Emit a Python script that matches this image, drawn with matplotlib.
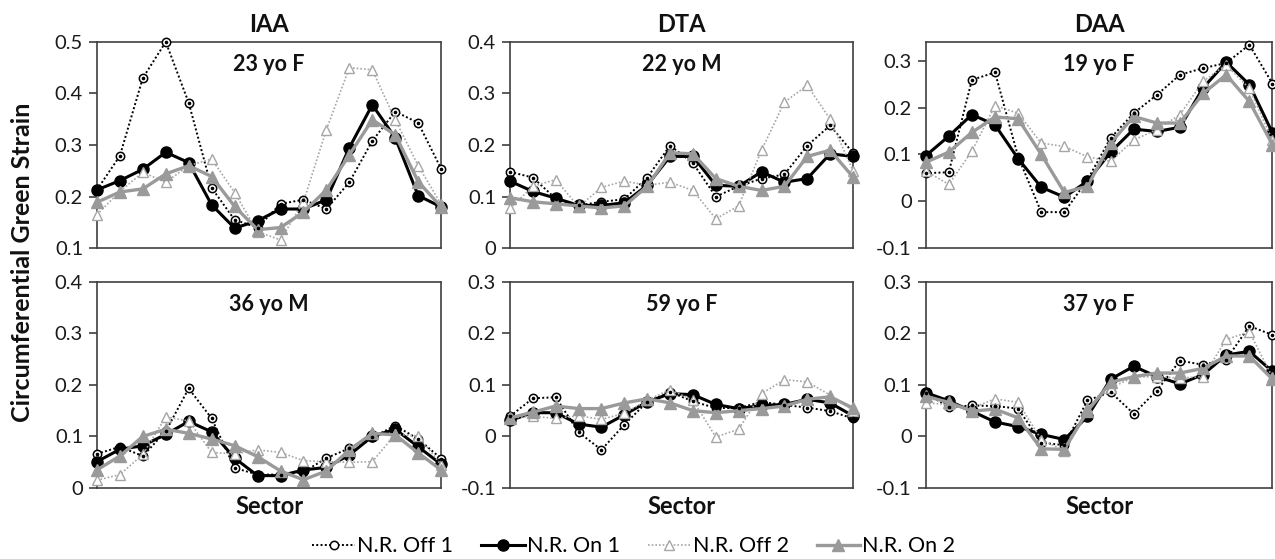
import matplotlib.pyplot as plt
import matplotlib.ticker as mticker
from matplotlib.lines import Line2D
import numpy as np

plt.rcParams['font.family'] = ['Lato', 'DejaVu Sans']

# 1. DATA (16 sectors per panel)
sectors = np.arange(16)
series_names = ['N.R. Off 1', 'N.R. On 1', 'N.R. Off 2', 'N.R. On 2']

# IAA - 23 yo F
iaa_23f_off1 = [0.213, 0.279, 0.430, 0.500, 0.382, 0.217, 0.155, 0.140, 0.186, 0.194, 0.176, 0.228, 0.308, 0.365, 0.343, 0.254]
iaa_23f_on1  = [0.213, 0.231, 0.253, 0.286, 0.266, 0.184, 0.139, 0.153, 0.176, 0.176, 0.194, 0.295, 0.378, 0.314, 0.202, 0.180]
iaa_23f_off2 = [0.165, 0.210, 0.247, 0.228, 0.260, 0.273, 0.208, 0.132, 0.116, 0.190, 0.330, 0.450, 0.446, 0.349, 0.260, 0.185]
iaa_23f_on2  = [0.189, 0.209, 0.215, 0.244, 0.260, 0.239, 0.181, 0.136, 0.140, 0.170, 0.213, 0.281, 0.349, 0.320, 0.229, 0.180]

# DTA - 22 yo M
dta_22m_off1 = [0.148, 0.137, 0.096, 0.083, 0.090, 0.095, 0.137, 0.199, 0.165, 0.100, 0.120, 0.135, 0.143, 0.199, 0.238, 0.185]
dta_22m_on1  = [0.130, 0.110, 0.097, 0.083, 0.083, 0.088, 0.122, 0.178, 0.178, 0.122, 0.120, 0.148, 0.128, 0.135, 0.183, 0.178]
dta_22m_off2 = [0.077, 0.120, 0.133, 0.080, 0.118, 0.130, 0.122, 0.128, 0.112, 0.057, 0.082, 0.190, 0.283, 0.316, 0.250, 0.150]
dta_22m_on2  = [0.098, 0.090, 0.086, 0.082, 0.078, 0.082, 0.120, 0.185, 0.183, 0.135, 0.120, 0.112, 0.120, 0.178, 0.190, 0.138]

# DAA - 19 yo F
daa_19f_off1 = [0.060, 0.062, 0.259, 0.275, 0.095, -0.023, -0.023, 0.046, 0.135, 0.188, 0.227, 0.270, 0.284, 0.295, 0.334, 0.251]
daa_19f_on1  = [0.097, 0.139, 0.185, 0.163, 0.091, 0.030, 0.009, 0.043, 0.105, 0.154, 0.149, 0.158, 0.242, 0.297, 0.249, 0.146]
daa_19f_off2 = [0.065, 0.036, 0.107, 0.204, 0.188, 0.124, 0.117, 0.095, 0.085, 0.131, 0.153, 0.185, 0.256, 0.291, 0.241, 0.130]
daa_19f_on2  = [0.083, 0.105, 0.147, 0.180, 0.176, 0.100, 0.019, 0.032, 0.124, 0.181, 0.167, 0.167, 0.230, 0.270, 0.213, 0.121]

# IAA - 36 yo M
iaa_36m_off1 = [0.066, 0.080, 0.062, 0.110, 0.193, 0.135, 0.039, 0.026, 0.026, 0.031, 0.058, 0.077, 0.098, 0.121, 0.095, 0.057]
iaa_36m_on1  = [0.051, 0.075, 0.082, 0.104, 0.129, 0.109, 0.058, 0.024, 0.024, 0.035, 0.040, 0.064, 0.100, 0.114, 0.080, 0.046]
iaa_36m_off2 = [0.015, 0.026, 0.065, 0.138, 0.130, 0.069, 0.066, 0.074, 0.069, 0.053, 0.051, 0.050, 0.051, 0.104, 0.101, 0.045]
iaa_36m_on2  = [0.035, 0.062, 0.100, 0.114, 0.106, 0.095, 0.082, 0.061, 0.033, 0.016, 0.033, 0.074, 0.106, 0.103, 0.068, 0.035]

# DTA - 59 yo F
dta_59f_off1 = [0.039, 0.074, 0.076, 0.008, -0.026, 0.023, 0.067, 0.086, 0.068, 0.055, 0.055, 0.067, 0.061, 0.056, 0.049, 0.035]
dta_59f_on1  = [0.031, 0.046, 0.046, 0.024, 0.018, 0.042, 0.067, 0.083, 0.081, 0.062, 0.054, 0.060, 0.062, 0.072, 0.065, 0.040]
dta_59f_off2 = [0.036, 0.039, 0.035, 0.040, 0.033, 0.045, 0.070, 0.091, 0.070, -0.001, 0.014, 0.083, 0.110, 0.106, 0.080, 0.050]
dta_59f_on2  = [0.036, 0.047, 0.059, 0.054, 0.054, 0.065, 0.073, 0.065, 0.050, 0.046, 0.050, 0.054, 0.059, 0.072, 0.077, 0.055]

# DAA - 37 yo F
daa_37f_off1 = [0.084, 0.057, 0.060, 0.059, 0.054, -0.012, -0.017, 0.070, 0.086, 0.044, 0.089, 0.147, 0.139, 0.149, 0.214, 0.197]
daa_37f_on1  = [0.085, 0.069, 0.049, 0.028, 0.019, 0.004, -0.006, 0.039, 0.111, 0.136, 0.116, 0.102, 0.120, 0.158, 0.165, 0.126]
daa_37f_off2 = [0.065, 0.062, 0.055, 0.073, 0.066, -0.006, -0.028, 0.055, 0.094, 0.115, 0.116, 0.113, 0.116, 0.188, 0.203, 0.115]
daa_37f_on2  = [0.078, 0.066, 0.049, 0.053, 0.036, -0.024, -0.025, 0.049, 0.105, 0.116, 0.123, 0.123, 0.132, 0.156, 0.156, 0.111]

col_titles = ['IAA', 'DTA', 'DAA']
panel_titles = ['23 yo F', '22 yo M', '19 yo F', '36 yo M', '59 yo F', '37 yo F']
panel_data = [
    [iaa_23f_off1, iaa_23f_on1, iaa_23f_off2, iaa_23f_on2],
    [dta_22m_off1, dta_22m_on1, dta_22m_off2, dta_22m_on2],
    [daa_19f_off1, daa_19f_on1, daa_19f_off2, daa_19f_on2],
    [iaa_36m_off1, iaa_36m_on1, iaa_36m_off2, iaa_36m_on2],
    [dta_59f_off1, dta_59f_on1, dta_59f_off2, dta_59f_on2],
    [daa_37f_off1, daa_37f_on1, daa_37f_off2, daa_37f_on2],
]
y_limits = [(0.1, 0.5), (0, 0.4), (-0.1, 0.34), (0, 0.4), (-0.1, 0.3), (-0.1, 0.3)]
y_ticks = [[0.1, 0.2, 0.3, 0.4, 0.5], [0, 0.1, 0.2, 0.3, 0.4], [-0.1, 0, 0.1, 0.2, 0.3],
           [0, 0.1, 0.2, 0.3, 0.4], [-0.1, 0, 0.1, 0.2, 0.3], [-0.1, 0, 0.1, 0.2, 0.3]]

# 2. STYLES
BLACK = '#000000'
GRAY = '#9a9a9a'
LIGHT = '#a6a6a6'
styles = [
    dict(color=BLACK, ls=(0, (1, 1.2)), lw=1.4, marker='o', ms=6, mfc='white', mec=BLACK, mew=1.1),
    dict(color=BLACK, ls='-', lw=2.2, marker='o', ms=8, mfc=BLACK, mec=BLACK),
    dict(color=LIGHT, ls=(0, (1, 1.2)), lw=1.2, marker='^', ms=7, mfc='white', mec=LIGHT, mew=1.0),
    dict(color=GRAY, ls='-', lw=2.4, marker='^', ms=8.5, mfc=GRAY, mec=GRAY),
]

# 3. FIGURE
fig = plt.figure(figsize=(12.75, 5.59), dpi=100, facecolor='white')
lefts = [0.076, 0.400, 0.726]
widths = [0.270, 0.269, 0.272]
bottoms = [0.556, 0.127]
height = 0.369

def fmt(v, _):
    return '0' if abs(v) < 1e-9 else f'{v:.1f}'

for k in range(6):
    r, c = divmod(k, 3)
    ax = fig.add_axes([lefts[c], bottoms[r], widths[c], height])
    for vals, st in zip(panel_data[k], styles):
        ax.plot(sectors, vals, **st, zorder=3)
        if st['marker'] == 'o' and st['mfc'] == 'white':
            ax.plot(sectors, vals, ls='none', marker='o', ms=1.6, color=BLACK, zorder=4)
    ax.set_xlim(0, 15)
    ax.set_ylim(*y_limits[k])
    ax.set_yticks(y_ticks[k])
    ax.yaxis.set_major_formatter(mticker.FuncFormatter(fmt))
    ax.set_xticks([])
    ax.tick_params(axis='y', direction='out', length=6, width=1.2, color='#404040',
                   labelsize=14.5, pad=4, labelcolor='#1a1a1a')
    for sp in ax.spines.values():
        sp.set_color('#404040')
        sp.set_linewidth(1.2)
    ax.text(0.5, 0.94, panel_titles[k], transform=ax.transAxes, ha='center', va='top',
            fontsize=15.5, fontweight='bold', color='#111111')
    for ln in ax.lines:
        ln.set_clip_on(False)
    if r == 0:
        ax.set_title(col_titles[c], fontsize=17, fontweight='bold', pad=7, color='#111111')
    else:
        ax.set_xlabel('Sector', fontsize=17, fontweight='bold', labelpad=5, color='#111111')

fig.text(0.018, 0.531, 'Circumferential Green Strain', rotation=90, ha='center', va='center',
         fontsize=18, fontweight='bold', color='#111111')

# 4. LEGEND
handles = []
for name, st in zip(series_names, styles):
    handles.append(Line2D([0], [0], label=name, **st))
fig.legend(handles=handles, loc='lower center', bbox_to_anchor=(0.497, -0.03), ncol=4,
           frameon=False, fontsize=15.5, handlelength=2.0, handletextpad=0.1, columnspacing=1.3)

plt.savefig('out.png', dpi=100, facecolor='white')
print("Done")
